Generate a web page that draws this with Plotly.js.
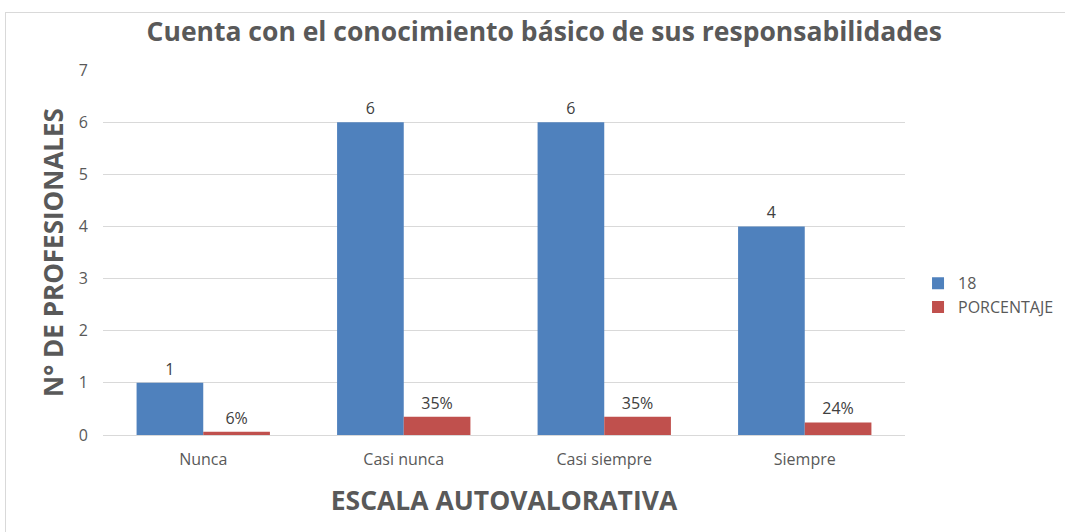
<!DOCTYPE html>
<html><head><meta charset="utf-8">
<script src="https://cdn.plot.ly/plotly-3.0.1.min.js"></script>
<style>
html,body{margin:0;padding:0;background:#fff;}
#frame{position:absolute;left:5px;top:12px;width:1070px;height:530px;border:1px solid #d9d9d9;box-sizing:border-box;pointer-events:none;z-index:5;}
#chart{width:1065px;height:532px;}
</style></head>
<body>
<div id="frame"></div>
<div id="chart"></div>
<script>
const categories = ["Nunca", "Casi nunca", "Casi siempre", "Siempre"];
const seriesCount = [1, 6, 6, 4];
const seriesPct = [0.06, 0.35, 0.35, 0.24];
const pctLabels = ["6%", "35%", "35%", "24%"];
const seriesNames = ["18", "PORCENTAJE"];
const yTicks = [0, 1, 2, 3, 4, 5, 6, 7];

const font = "Open Sans, Liberation Sans, sans-serif";
const traces = [
  {type:"bar", name:seriesNames[0], x:categories, y:seriesCount,
   marker:{color:"#4f81bd"}, text:seriesCount.map(String), textposition:"outside",
   textfont:{color:"#404040", size:16, family:font}, cliponaxis:false},
  {type:"bar", name:seriesNames[1], x:categories, y:seriesPct,
   marker:{color:"#c0504d"}, text:pctLabels, textposition:"outside",
   textfont:{color:"#404040", size:16, family:font}, cliponaxis:false}
];
const layout = {
  width:1065, height:532,
  margin:{l:103, r:160, t:70, b:97, autoexpand:false},
  paper_bgcolor:"#fff", plot_bgcolor:"#fff",
  font:{family:font, color:"#595959", size:16},
  title:{text:"<b>Cuenta con el conocimiento básico de sus responsabilidades</b>", x:0.511, xanchor:"center", y:0.94, yanchor:"middle",
    font:{size:26.5, color:"#595959", family:font}},
  barmode:"group", bargap:0.335, bargroupgap:0,
  xaxis:{tickfont:{size:16, color:"#595959"}, showline:true, linecolor:"#d9d9d9", ticks:"", ticklabelstandoff:10,
    title:{text:"<b>ESCALA AUTOVALORATIVA</b>", font:{size:26.5, color:"#595959"}, standoff:22}},
  yaxis:{range:[0,7], tickvals:yTicks, showgrid:true, gridcolor:"#d9d9d9", zeroline:false,
    tickfont:{size:16, color:"#595959"}, ticks:"", ticklabelstandoff:14,
    title:{text:"<b>N° DE PROFESIONALES</b>", font:{size:26, color:"#595959"}, standoff:7}},
  legend:{xref:"container", yref:"container", x:0.862, y:0.445, xanchor:"left", yanchor:"middle",
    font:{size:16, color:"#595959"}, tracegroupgap:0, itemwidth:30},
  showlegend:true
};
Plotly.newPlot("chart", traces, layout, {displayModeBar:false, staticPlot:true});
</script>
</body></html>
